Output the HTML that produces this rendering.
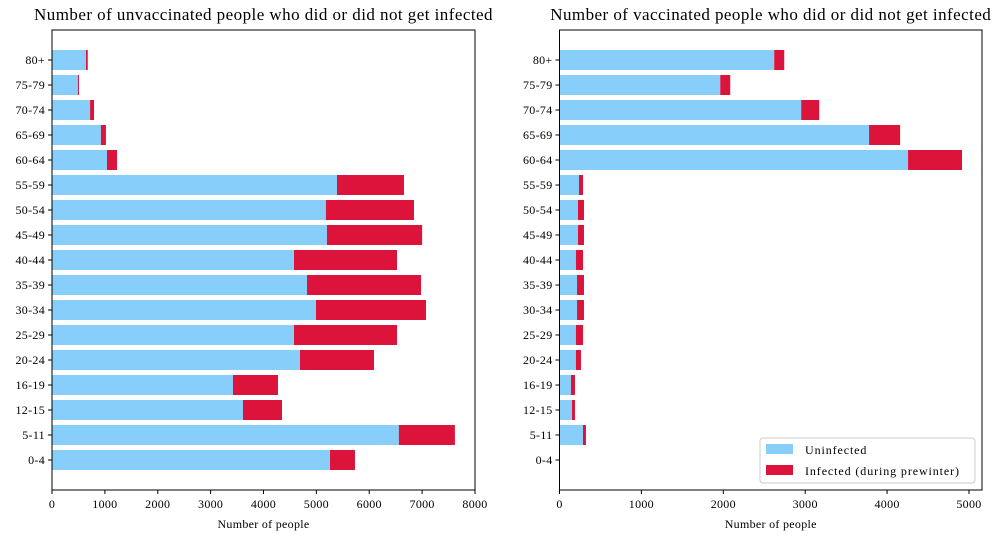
<!DOCTYPE html>
<html><head><meta charset="utf-8"><style>
body{margin:0;background:#fff;}
svg text{font-family:"Liberation Serif",serif;fill:#000;}
</style></head><body>
<svg id="c" width="997" height="541"></svg>
<script>
const categories=["0-4","5-11","12-15","16-19","20-24","25-29","30-34","35-39","40-44","45-49","50-54","55-59","60-64","65-69","70-74","75-79","80+"];
const unvaxUninfected=[5258,6560,3612,3423,4690,4577,4993,4823,4577,5200,5180,5390,1040,925,720,490,643];
const unvaxInfected=[472,1060,738,851,1400,1948,2080,2157,1948,1800,1666,1267,190,95,75,20,33];
const vaxUninfected=[0,287,153,140,201,201,214,214,201,226,226,238,4256,3780,2951,1963,2622];
const vaxInfected=[0,36,36,49,61,86,85,85,86,73,73,49,659,379,220,122,122];
const leftTicks=[0,1000,2000,3000,4000,5000,6000,7000,8000];
const rightTicks=[0,1000,2000,3000,4000,5000];
const svg=document.getElementById('c');
const NS='http://www.w3.org/2000/svg';
function mk(t,a,p){const e=document.createElementNS(NS,t);for(const k in a)e.setAttribute(k,a[k]);(p||svg).appendChild(e);return e;}
function panel(name,x0,x1,xmax,unv,inf,ticks,title,legend){
  const y0=30,y1=490;
  const xs=v=>x0+v/xmax*(x1-x0);
  const ys=i=>y1-(i+1.2)/18.4*(y1-y0);
  const g=mk('g',{});
  
  
  const bh=0.8/18.4*(y1-y0);
  categories.forEach((c,i)=>{
    const yc=ys(i);
    if(unv[i]>0){const r=mk('rect',{x:xs(0),y:yc-bh/2,width:xs(unv[i])-xs(0),height:bh,fill:'#87cefa'},g);
    
    }
    if(inf[i]>0){const r=mk('rect',{x:xs(unv[i]),y:yc-bh/2,width:xs(unv[i]+inf[i])-xs(unv[i]),height:bh,fill:'#dc143c'},g);
    
    }
    mk('line',{x1:x0,x2:x0-4,y1:yc,y2:yc,stroke:'#000','stroke-width':1},g);
    const t=mk('text',{x:x0-7,y:yc+4,'text-anchor':'end','font-size':12,'letter-spacing':0.3},g);t.textContent=c;
    
    
  });
  ticks.forEach(v=>{
    const x=xs(v);
    mk('line',{x1:x,x2:x,y1:y1,y2:y1+4,stroke:'#000','stroke-width':1},g);
    const t=mk('text',{x:x,y:y1+18,'text-anchor':'middle','font-size':12,'letter-spacing':0.3},g);t.textContent=v;
    
    
  });
  mk('rect',{x:x0,y:y0,width:x1-x0,height:y1-y0,fill:'none',stroke:'#000','stroke-width':1},g);
  const tt=mk('text',{x:(x0+x1)/2,y:20,'text-anchor':'middle','font-size':17,'letter-spacing':0.45},g);tt.textContent=title;
  
  
  const xl=mk('text',{x:(x0+x1)/2,y:528,'text-anchor':'middle','font-size':12,'letter-spacing':0.3},g);xl.textContent='Number of people';
  
  
  if(legend){
    const lg=mk('g',{},g);
    
    
    mk('rect',{x:760,y:438,width:215,height:45,rx:3,fill:'#fff',stroke:'#ccc'},lg);
    mk('rect',{x:766,y:444,width:27,height:10,fill:'#87cefa'},lg);
    mk('rect',{x:766,y:465,width:27,height:10,fill:'#dc143c'},lg);
    const a=mk('text',{x:805,y:454,'font-size':12,'letter-spacing':0.9},lg);a.textContent='Uninfected';
    
    
    const b=mk('text',{x:805,y:475,'font-size':12,'letter-spacing':0.9},lg);b.textContent='Infected (during prewinter)';
    
    
  }
}
panel('unvaccinated-panel',52,475,8000,unvaxUninfected,unvaxInfected,leftTicks,'Number of unvaccinated people who did or did not get infected',false);
panel('vaccinated-panel',559.5,982,5159,vaxUninfected,vaxInfected,rightTicks,'Number of vaccinated people who did or did not get infected',true);
</script>
</body></html>
